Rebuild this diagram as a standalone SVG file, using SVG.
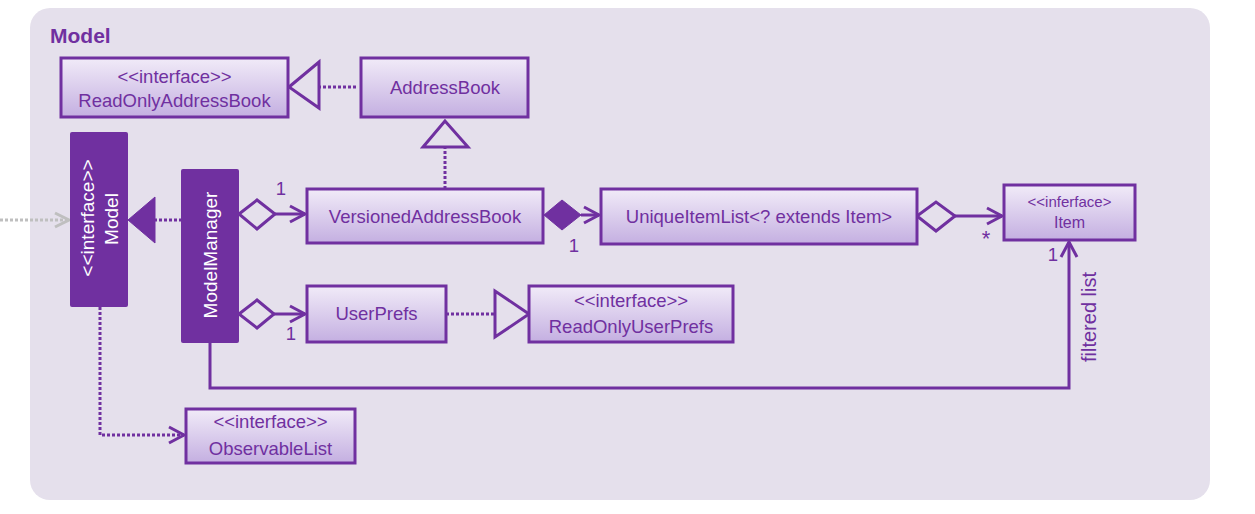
<svg xmlns="http://www.w3.org/2000/svg" width="1255" height="514" viewBox="0 0 1255 514">
<defs>
<linearGradient id="g" x1="0" y1="0" x2="0" y2="1">
<stop offset="0" stop-color="#f1ebf8"/>
<stop offset="1" stop-color="#c4afe1"/>
</linearGradient>
<marker id="open" markerUnits="userSpaceOnUse" markerWidth="20" markerHeight="20" viewBox="-16 -10 20 20" refX="0" refY="0" orient="auto">
<path d="M-15,-8 L0,0 L-15,8" fill="none" stroke="#7030a0" stroke-width="3"/>
</marker>
<marker id="gray" markerUnits="userSpaceOnUse" markerWidth="20" markerHeight="20" viewBox="-16 -10 20 20" refX="0" refY="0" orient="auto">
<path d="M-14,-7 L0,0 L-14,7" fill="none" stroke="#bfbfbf" stroke-width="3"/>
</marker>
</defs>
<style>
.box{fill:url(#g);stroke:#7030a0;stroke-width:3}
.solid{fill:#7030a0;stroke:#7030a0;stroke-width:1}
.t{font-family:"Liberation Sans",Arial,sans-serif;font-size:18.5px;fill:#7030a0;text-anchor:middle}
.w{font-family:"Liberation Sans",Arial,sans-serif;font-size:19px;fill:#ffffff;text-anchor:middle}
.ln{fill:none;stroke:#7030a0;stroke-width:3}
.dot{fill:none;stroke:#7030a0;stroke-width:3;stroke-dasharray:3 2}
.hol{fill:none;stroke:#7030a0;stroke-width:3;stroke-linejoin:miter}
</style>
<rect x="30" y="8" width="1180" height="492" rx="20" ry="20" fill="#e5e0ec"/>
<text x="50" y="43" font-family="'Liberation Sans',Arial,sans-serif" font-size="21" font-weight="bold" fill="#7030a0">Model</text>

<g id="connectors">
<path class="dot" d="M356,87 L319,87"/>
<path class="hol" d="M289,87 L319,62 L319,108 Z"/>
<path class="dot" d="M445,189 L445,147"/>
<path class="hol" d="M445,121 L423,147 L468,147 Z"/>
<path class="dot" d="M182,220 L155,220"/>
<path class="solid" d="M128,220 L155,197 L155,243 Z"/>
<path d="M0,220 L69,220" fill="none" stroke="#bfbfbf" stroke-width="3" stroke-dasharray="3 2" marker-end="url(#gray)"/>
<path class="ln" d="M275,214 L305,214" marker-end="url(#open)"/>
<path class="hol" d="M239,214 L257,200 L275,214 L257,229 Z"/>
<path class="ln" d="M274,314 L305,314" marker-end="url(#open)"/>
<path class="hol" d="M239,314 L257,300 L274,314 L257,328 Z"/>
<path class="ln" d="M581,215 L599,215" marker-end="url(#open)"/>
<path class="solid" d="M544,215 L562,200 L581,215 L562,230 Z"/>
<path class="ln" d="M955,216 L1002,216" marker-end="url(#open)"/>
<path class="hol" d="M917,216 L936,202 L955,216 L936,231 Z"/>
<path class="dot" d="M446,314 L495,314"/>
<path class="hol" d="M529,314 L495,291 L495,337 Z"/>
<path class="dot" d="M100,307 L100,435 L184,435" marker-end="url(#open)"/>
<path class="ln" d="M210,343 L210,388 L1069,388 L1069,242" marker-end="url(#open)"/>
<text class="t" x="281" y="195">1</text>
<text class="t" x="574" y="252">1</text>
<text class="t" x="291" y="340">1</text>
<text class="t" x="986" y="246" style="font-size:22px">*</text>
<text class="t" x="1053" y="261">1</text>
<text class="t" transform="translate(1096,317) rotate(-90)" style="font-size:20px">filtered list</text>
</g>

<g id="ReadOnlyAddressBook">
<rect class="box" x="61" y="58" width="227" height="59"/>
<text class="t" x="174.5" y="83">&lt;&lt;interface&gt;&gt;</text>
<text class="t" x="174.5" y="107">ReadOnlyAddressBook</text>
</g>
<g id="AddressBook">
<rect class="box" x="361" y="58" width="167" height="59"/>
<text class="t" x="445" y="94">AddressBook</text>
</g>
<g id="Model">
<rect x="70" y="132" width="58" height="175" rx="2" fill="#7030a0"/>
<text class="w" transform="translate(94,218) rotate(-90)">&lt;&lt;interface&gt;&gt;</text>
<text class="w" transform="translate(118,219) rotate(-90)">Model</text>
</g>
<g id="ModelManager">
<rect x="181" y="169" width="58" height="174" rx="2" fill="#7030a0"/>
<text class="w" transform="translate(217,255) rotate(-90)">ModelManager</text>
</g>
<g id="VersionedAddressBook">
<rect class="box" x="307" y="189" width="236" height="54"/>
<text class="t" x="425" y="223">VersionedAddressBook</text>
</g>
<g id="UniqueItemList">
<rect class="box" x="601" y="189" width="316" height="55"/>
<text class="t" x="759" y="223">UniqueItemList&lt;? extends Item&gt;</text>
</g>
<g id="Item">
<rect class="box" x="1004" y="185" width="131" height="55"/>
<text class="t" x="1069.5" y="207" style="font-size:15px">&lt;&lt;inferface&gt;</text>
<text class="t" x="1069.5" y="228" style="font-size:16px">Item</text>
</g>
<g id="UserPrefs">
<rect class="box" x="307" y="286" width="139" height="56"/>
<text class="t" x="376.5" y="320">UserPrefs</text>
</g>
<g id="ReadOnlyUserPrefs">
<rect class="box" x="529" y="286" width="204" height="56"/>
<text class="t" x="631" y="307">&lt;&lt;interface&gt;&gt;</text>
<text class="t" x="631" y="333">ReadOnlyUserPrefs</text>
</g>
<g id="ObservableList">
<rect class="box" x="186" y="409" width="169" height="54"/>
<text class="t" x="270.5" y="428">&lt;&lt;interface&gt;&gt;</text>
<text class="t" x="270.5" y="455">ObservableList</text>
</g>
</svg>
